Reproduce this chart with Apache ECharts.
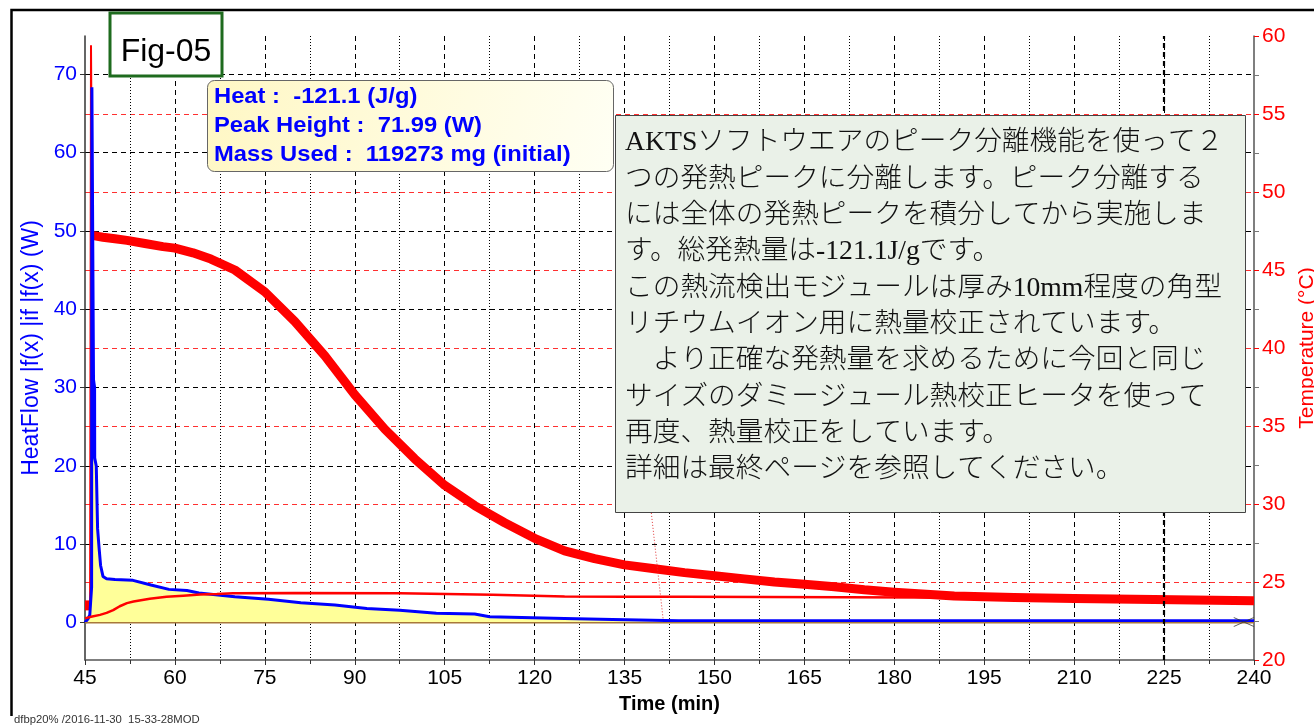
<!DOCTYPE html>
<html><head><meta charset="utf-8">
<script src="https://cdn.jsdelivr.net/npm/echarts@6/dist/echarts.min.js"></script>
<style>html,body{margin:0;padding:0;background:#fff}#c{width:1314px;height:727px}</style>
</head><body><div id="c"></div>
<script>
// ---- axis settings ----
const timeMin = 45, timeMax = 240, timeStep = 15;
const heatTicks = [0, 10, 20, 30, 40, 50, 60, 70];
const tempMin = 20, tempMax = 60, tempStep = 5;

// ---- heat flow (blue, W) ----
const heatTime = [45, 45.5, 45.8, 46.0, 46.1, 46.15, 46.4, 46.42, 46.6, 46.62, 46.88, 47.1, 47.35, 47.6, 48.0, 48.6, 50, 53, 56, 59, 62, 64, 70, 75.6, 81, 86.7, 92, 97.5, 103.6, 110, 112.5, 125, 133, 144, 240];
const heatFlow = [0, 0.5, 1.0, 1.2, 4.5, 68.3, 68.3, 31, 30, 21, 20, 12, 9.5, 7.3, 5.9, 5.6, 5.5, 5.4, 4.8, 4.25, 4.1, 3.8, 3.3, 3.0, 2.55, 2.25, 1.8, 1.6, 1.2, 1.1, 0.77, 0.55, 0.42, 0.25, 0.25];

// ---- baseline ----
const baseTime = [45, 240];
const baseFlow = [0, 0];

// ---- second separated curve (red, W) ----
const peak2Time = [45, 46, 47.5, 48.6, 49.7, 50.8, 52.0, 53.1, 55.8, 58.6, 61.4, 64.2, 67.0, 69.7, 80, 97.5, 113, 125, 135, 145, 185, 240];
const peak2Flow = [0.55, 0.75, 1.0, 1.25, 1.6, 2.1, 2.5, 2.7, 3.05, 3.3, 3.45, 3.6, 3.65, 3.75, 3.8, 3.75, 3.55, 3.35, 3.3, 3.3, 3.2, 3.1];

// ---- temperature (red, °C) ----
const tempStartTime = [45, 45.8];
const tempStartVal = [23.5, 23.5];
const tempSpikeTime = [45.85, 46.0, 46.2];
const tempSpikeVal = [23.5, 59.4, 47.2];
const tempTime = [46.4, 46.6, 48, 50, 52, 55, 58, 60, 63, 66, 70, 75, 80, 85, 90, 95, 100, 105, 110, 115, 120, 125, 130, 135, 140, 145, 150, 155, 160, 165, 170, 175, 180, 190, 200, 210, 220, 230, 240];
const tempVal = [47.2, 47.2, 47.1, 47.0, 46.9, 46.7, 46.5, 46.4, 46.1, 45.7, 45.0, 43.6, 41.7, 39.5, 37.0, 34.8, 32.9, 31.2, 29.9, 28.8, 27.8, 27.0, 26.5, 26.1, 25.85, 25.6, 25.4, 25.2, 25.0, 24.85, 24.7, 24.5, 24.35, 24.1, 24.0, 23.95, 23.9, 23.85, 23.8];
const cursorTime = [139.3, 141.5];
const cursorTemp = [30.0, 22.4];
const endMarkTime = [238.3];
const endMarkFlow = [0.1];
const boldGridTime = 225;

const infoLines = ['Heat :  -121.1 (J/g)', 'Peak Height :  71.99 (W)', 'Mass Used :  119273 mg (initial)'];
const noteLines = [
  'AKTSソフトウエアのピーク分離機能を使って２',
  'つの発熱ピークに分離します。ピーク分離する',
  'には全体の発熱ピークを積分してから実施しま',
  'す。総発熱量は-121.1J/gです。',
  'この熱流検出モジュールは厚み10mm程度の角型',
  'リチウムイオン用に熱量校正されています。',
  '　より正確な発熱量を求めるために今回と同じ',
  'サイズのダミージュール熱校正ヒータを使って',
  '再度、熱量校正をしています。',
  '詳細は最終ページを参照してください。'
];
const footer = 'dfbp20% /2016-11-30  15-33-28MOD';

const zip = (a, b) => a.map((v, i) => [v, b[i]]);
const F = 'Liberation Sans, Arial, sans-serif';

const chart = echarts.init(document.getElementById('c'), null, {renderer: 'canvas'});
chart.setOption({
  animation: false,
  backgroundColor: '#fff',
  grid: {left: 85, right: 60, top: 36, bottom: 67, containLabel: false, outerBoundsMode: 'none'},
  xAxis: {
    type: 'value', min: timeMin, max: timeMax, interval: timeStep,
    name: 'Time (min)', nameLocation: 'middle', nameGap: 34,
    nameTextStyle: {color: '#000', fontSize: 20, fontWeight: 'bold', fontFamily: F},
    axisLine: {show: true, onZero: false, lineStyle: {color: '#555', width: 1.5}},
    axisTick: {show: true, length: 5, lineStyle: {color: '#333'}},
    minorTick: {show: true, splitNumber: 2, length: 4, lineStyle: {color: '#333'}},
    axisLabel: {color: '#000', fontSize: 21, margin: 8, fontFamily: F},
    splitLine: {show: true, showMinLine: false, showMaxLine: false, lineStyle: {color: '#000', type: [5, 4], width: 1}},
    minorSplitLine: {show: true, lineStyle: {color: '#000', type: [1, 2], width: 1}}
  },
  yAxis: [{
    type: 'value', position: 'left', min: -4.76, max: 74.85,
    name: 'HeatFlow |f(x) |if |f(x) (W)', nameLocation: 'middle', nameGap: 40,
    nameTextStyle: {color: '#0000ff', fontSize: 23, fontFamily: F},
    axisLine: {show: true, onZero: false, lineStyle: {color: '#333', width: 1.5}},
    axisTick: {show: true, customValues: heatTicks, length: 5, lineStyle: {color: '#333'}},
    axisLabel: {customValues: heatTicks, color: '#0000ff', fontSize: 21, margin: 8, fontFamily: F},
    splitLine: {show: true, lineStyle: {color: '#000', type: [5, 4], width: 1}}
  }, {
    type: 'value', position: 'right', min: tempMin, max: tempMax, interval: tempStep,
    name: 'Temperature (°C)', nameLocation: 'middle', nameGap: 33,
    nameTextStyle: {color: '#ff0000', fontSize: 21, fontFamily: F},
    axisLine: {show: true, onZero: false, lineStyle: {color: '#555', width: 1.5}},
    axisTick: {show: true, length: 5, lineStyle: {color: '#ff0000'}},
    minorTick: {show: true, splitNumber: 2, length: 5, lineStyle: {color: '#777'}},
    axisLabel: {color: '#ff0000', fontSize: 21, margin: 8, fontFamily: F},
    splitLine: {show: true, showMinLine: false, showMaxLine: false, lineStyle: {color: '#ff3030', type: [5, 4], width: 1}}
  }],
  series: [{
    name: 'TempStart', type: 'line', yAxisIndex: 1, data: zip(tempStartTime, tempStartVal),
    symbol: 'none', lineStyle: {color: '#ff0000', width: 10}, z: 2
  }, {
    name: 'TempSpike', type: 'line', yAxisIndex: 1, data: zip(tempSpikeTime, tempSpikeVal),
    symbol: 'none', lineStyle: {color: '#ff0000', width: 2}, z: 2
  }, {
    name: 'Temperature', type: 'line', yAxisIndex: 1, data: zip(tempTime, tempVal),
    symbol: 'none', lineStyle: {color: '#ff0000', width: 9, join: 'round'}, z: 2
  }, {
    name: 'Cursor', type: 'line', yAxisIndex: 1, data: zip(cursorTime, cursorTemp),
    symbol: 'none', lineStyle: {color: '#e03030', width: 1, type: [1, 2]}, z: 2
  }, {
    name: 'HeatFlow', type: 'line', yAxisIndex: 0, data: zip(heatTime, heatFlow),
    symbol: 'none', lineStyle: {color: '#0000ff', width: 3}, itemStyle: {color: '#0000ff'},
    areaStyle: {color: '#ffff99', opacity: 1, origin: 0}, z: 3
  }, {
    name: 'Baseline', type: 'line', yAxisIndex: 0, data: zip(baseTime, baseFlow),
    symbol: 'none', lineStyle: {color: '#a8783a', width: 1.5}, z: 4,
    markLine: {silent: true, symbol: 'none', label: {show: false},
      lineStyle: {color: '#000', type: [5, 4], width: 2.2}, data: [{xAxis: boldGridTime}]}
  }, {
    name: 'Peak2', type: 'line', yAxisIndex: 0, data: zip(peak2Time, peak2Flow),
    symbol: 'none', lineStyle: {color: '#ff0000', width: 2.5}, z: 5
  }, {
    name: 'EndMark', type: 'scatter', yAxisIndex: 0, data: zip(endMarkTime, endMarkFlow),
    symbol: 'path://M0 0 L20 9 M0 9 L20 0', symbolSize: [20, 9],
    itemStyle: {color: 'none', borderColor: '#333', borderWidth: 1}, z: 6
  }],
  graphic: [
    {type: 'polyline', z: 100, shape: {points: [[11.5, 716], [11.5, 10], [1320, 10]]}, style: {stroke: '#000', lineWidth: 2.5, fill: null}},
    {type: 'rect', z: 100, shape: {x: 110, y: 13, width: 112, height: 63}, style: {fill: '#fff', stroke: '#1e6b1e', lineWidth: 3}},
    {type: 'text', z: 101, x: 166, y: 52, style: {text: 'Fig-05', fontSize: 32, fontFamily: F, fill: '#000', align: 'center', verticalAlign: 'middle', textAlign: 'center', textVerticalAlign: 'middle'}},
    {type: 'rect', z: 100, shape: {x: 207.5, y: 80.5, width: 406, height: 91, r: 7},
      style: {stroke: '#666', lineWidth: 1,
        fill: new echarts.graphic.LinearGradient(0, 0, 1, 1, [{offset: 0, color: '#fff7c4'}, {offset: 1, color: '#fffff4'}])}},
    ...infoLines.map((t, i) => ({type: 'text', z: 101, x: 214, y: 97 + i * 29, scaleX: 1.08,
      style: {text: t, fontSize: 22, fontWeight: 'bold', fontFamily: F, fill: '#0000ff', verticalAlign: 'middle', textVerticalAlign: 'middle'}})),
    {type: 'rect', z: 100, shape: {x: 615.5, y: 115.5, width: 630, height: 397}, style: {fill: '#eaf1e8', stroke: '#444', lineWidth: 1}},
    {type: 'text', z: 101, x: 625, y: 125, style: {text: noteLines.join('\n'), fontSize: 27.7, lineHeight: 36.3, fontWeight: 300,
      fontFamily: "'Liberation Serif', 'Noto Sans CJK JP', serif", fill: '#111', verticalAlign: 'top', textVerticalAlign: 'top'}},
    {type: 'text', z: 100, x: 14, y: 720, style: {text: footer, fontSize: 11.3, fontFamily: F, fill: '#333', verticalAlign: 'middle', textVerticalAlign: 'middle'}}
  ]
});
</script></body></html>
